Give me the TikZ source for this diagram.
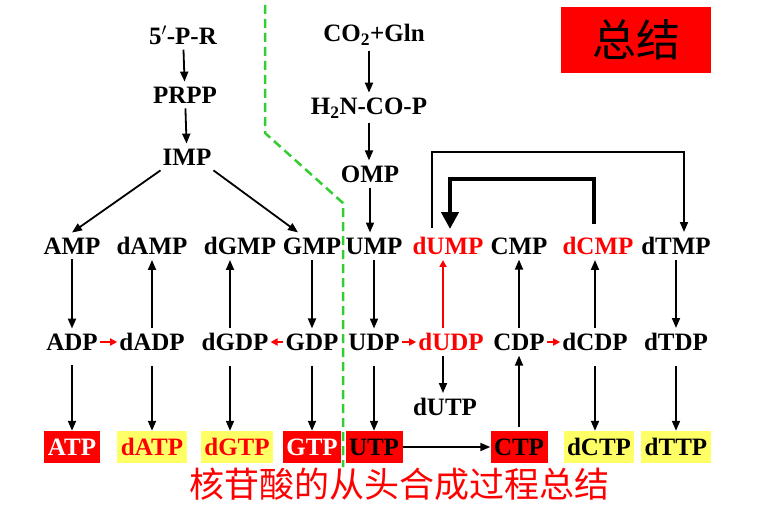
\documentclass[tikz,border=0pt]{standalone}
\usepackage{fontspec}
\setmainfont{Liberation Serif}
\newfontfamily\cjkfont{Noto Sans CJK SC}
\usepackage{tikz}
\usetikzlibrary{arrows.meta}
\definecolor{boxred}{RGB}{255,0,0}
\definecolor{boxyellow}{RGB}{255,255,102}
\definecolor{splitgreen}{RGB}{51,204,51}
\tikzset{
  nuc/.style = {font=\fontsize{25}{25}\selectfont\bfseries,
                inner xsep=2pt, inner ysep=5pt},
  nucred/.style = {nuc, text=boxred},
  ntpbox/.style = {nuc, minimum height=32pt, inner xsep=3.5pt, inner ysep=0pt},
  ntpred/.style = {ntpbox, fill=boxred},
  ntpyellow/.style = {ntpbox, fill=boxyellow},
  nucarrow/.style = {-{Triangle[length=10pt,width=8pt]}, line width=1.8pt},
  nucredarrow/.style = {-{Triangle[length=7pt,width=7pt]}, line width=2pt, draw=boxred},
  nucbigarrow/.style = {-{Triangle[length=17pt,width=17pt]}, line width=4.8pt},
  splitline/.style = {draw=splitgreen, line width=2.5pt, dash pattern=on 9pt off 5pt}
}
\begin{document}
\begin{tikzpicture}[x=1pt, y=-1pt]
\useasboundingbox (0,0) rectangle (767,508);
% purine branch
\node[nuc] (prib) at (183,35)  {5$'$-P-R};
\node[nuc] (prpp) at (185,95)  {PRPP};
\node[nuc] (imp)  at (187,157) {IMP};
% pyrimidine branch
\node[nuc] (cogln) at (374,35)  {CO\textsubscript{2}+Gln};
\node[nuc] (carb)  at (369,108) {H\textsubscript{2}N-CO-P};
\node[nuc] (omp)   at (370,174) {OMP};
% monophosphates
\node[nuc]    (amp)  at (72,246)  {AMP};
\node[nuc]    (damp) at (152,246) {dAMP};
\node[nuc]    (dgmp) at (240,246) {dGMP};
\node[nuc]    (gmp)  at (312,246) {GMP};
\node[nuc]    (ump)  at (374,246) {UMP};
\node[nucred] (dump) at (448,246) {dUMP};
\node[nuc]    (cmp)  at (519,246) {CMP};
\node[nucred] (dcmp) at (598,246) {dCMP};
\node[nuc]    (dtmp) at (676,246) {dTMP};
% diphosphates
\node[nuc]    (adp)  at (72,342)  {ADP};
\node[nuc]    (dadp) at (152,342) {dADP};
\node[nuc]    (dgdp) at (235,342) {dGDP};
\node[nuc]    (gdp)  at (312,342) {GDP};
\node[nuc]    (udp)  at (374,342) {UDP};
\node[nucred] (dudp) at (451,342) {dUDP};
\node[nuc]    (cdp)  at (519,342) {CDP};
\node[nuc]    (dcdp) at (595,342) {dCDP};
\node[nuc]    (dtdp) at (676,342) {dTDP};
\node[nuc]    (dutp) at (445,407) {dUTP};
% triphosphates
\node[ntpred, text=white]        (atp)  at (72,447)  {ATP};
\node[ntpyellow, text=boxred]    (datp) at (152,447) {dATP};
\node[ntpyellow, text=boxred]    (dgtp) at (237,447) {dGTP};
\node[ntpred, text=white]        (gtp)  at (312,447) {GTP};
\node[ntpred]                    (utp)  at (374,447) {UTP};
\node[ntpred]                    (ctp)  at (519,447) {CTP};
\node[ntpyellow]                 (dctp) at (599,447) {dCTP};
\node[ntpyellow]                 (dttp) at (676,447) {dTTP};
% labels
\node[fill=boxred, minimum width=150pt, minimum height=66pt,
      font=\cjkfont\fontsize{44}{44}\selectfont] (title) at (636,40) {总结};
\node[text=boxred, font=\cjkfont\fontsize{35}{35}\selectfont] (caption) at (399,484)
      {核苷酸的从头合成过程总结};

\draw[splitline] (265,5) -- (265,133) -- (343,203) -- (343,467);

\draw[nucarrow] (prib) -- (prpp);
\draw[nucarrow] (prpp) -- (imp);
\draw[nucarrow] (imp.south west) -- (amp.north);
\draw[nucarrow] (imp.south east) -- ([xshift=-14pt]gmp.north);
\draw[nucarrow] (cogln.south -| carb) -- (carb);
\draw[nucarrow] (carb) -- (carb |- omp.north);
\draw[nucarrow] (omp.south) -- (omp.south |- ump.north);

\draw[nucarrow] (amp) -- (adp);
\draw[nucarrow] (dadp) -- (damp);
\draw[nucarrow] ([xshift=-5pt]dgdp.north) -- ([xshift=-5pt]dgdp.north |- dgmp.south);
\draw[nucarrow] (gmp) -- (gdp);
\draw[nucarrow] (ump) -- (udp);
\draw[nucredarrow] ([xshift=-8pt]dudp.north) -- ([xshift=-8pt]dudp.north |- dump.south);
\draw[nucarrow] (cdp) -- (cmp);
\draw[nucarrow] (dcdp.north) -- (dcdp.north |- dcmp.south);
\draw[nucarrow] (dtmp) -- (dtdp);

\draw[nucredarrow] (adp) -- (dadp);
\draw[nucredarrow] (gdp) -- (dgdp);
\draw[nucredarrow] (udp) -- (dudp);
\draw[nucredarrow] (cdp) -- (dcdp);

\draw[nucarrow, shorten <=10pt] (adp) -- (atp);
\draw[nucarrow, shorten <=10pt] (dadp) -- (datp);
\draw[nucarrow, shorten <=10pt] ([xshift=-5pt]dgdp.south) -- ([xshift=-5pt]dgdp.south |- dgtp.north);
\draw[nucarrow, shorten <=10pt] (gdp) -- (gtp);
\draw[nucarrow, shorten <=10pt] (udp) -- (utp);
\draw[nucarrow] ([xshift=-8pt]dudp.south) -- ([xshift=-8pt]dudp.south |- dutp.north);
\draw[nucarrow, shorten <=4pt] (ctp) -- (cdp);
\draw[nucarrow, shorten <=10pt] (dcdp.south) -- (dcdp.south |- dctp.north);
\draw[nucarrow, shorten <=10pt] (dtdp) -- (dttp);
\draw[nucarrow] (utp) -- (ctp);

\draw[nucarrow] ([xshift=-16pt,yshift=4pt]dump.north) |- ([xshift=8pt,yshift=80pt]dtmp.north)
      -- ([xshift=8pt]dtmp.north);
\draw[nucbigarrow] ([xshift=-4pt,yshift=8pt]dcmp.north) |- ([xshift=2pt,yshift=53pt]dump.north)
      -- ([xshift=2pt,yshift=3pt]dump.north);
\end{tikzpicture}
\end{document}
